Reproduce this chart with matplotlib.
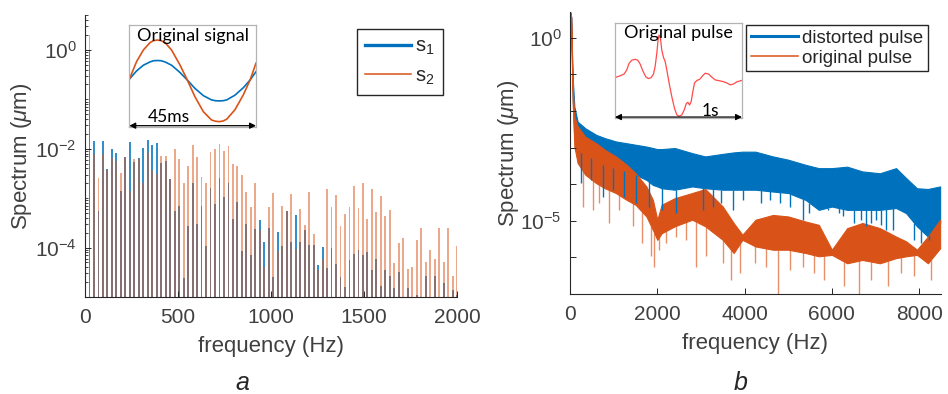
import numpy as np
import matplotlib
matplotlib.use('Agg')
import matplotlib.pyplot as plt
from matplotlib.lines import Line2D
from matplotlib.ticker import FixedLocator, LogLocator, NullFormatter

plt.rcParams['font.family'] = ['Liberation Sans', 'DejaVu Sans']
plt.rcParams['mathtext.fontset'] = 'custom'
plt.rcParams['mathtext.rm'] = 'Liberation Sans'
plt.rcParams['mathtext.it'] = 'Liberation Sans:italic'

BLUE = '#0072BD'
ORANGE = '#D95319'
AXC = '#262626'
TXT = '#404040'

# ---- panel a: line spectra of the two sine signals (harmonics of f0) ----
f0 = 24.1  # Hz, spacing of the bars
harmonic = np.arange(1, 84)
s1_amp = [1.0, 0.0145, 5.4e-4, 0.0143, 0.0039, 0.0100, 0.0083, 0.00142, 0.0067, 0.0140,
          0.0055, 0.0064, 0.0103, 0.0152, 0.0120, 0.0130, 0.0051, 0.0057, 0.0025, 5.6e-4,
          6.8e-4, 2.4e-5, 2.7e-4, 0.0020, 3.0e-4, 6.8e-4, 1.1e-4, 0.0016, 7.6e-4, 0.0026,
          0.00106, 0.0020, 3.85e-4, 8.4e-4, 8.7e-5, 3.05e-4, 7.2e-5, 2.4e-4, 3.6e-4, 1.28e-4,
          2.5e-4, 2.5e-5, 2.1e-4, 1.1e-4, 5.4e-4, 1.28e-4, 4.6e-4, 1.28e-4, 2.3e-4, 1.11e-4,
          1.11e-4, 4.5e-5, 1.03e-4, 3.8e-5, 9.7e-5, 4.75e-5, 2.5e-5, 1.6e-5, 5.5e-5, 7.3e-5,
          8.8e-5, 7.2e-5, 8.0e-5, 3.6e-5, 5.9e-5, 1.7e-5, 3.6e-5, 2.6e-5, 1.5e-5, 3.2e-5,
          5e-6, 1.5e-5, 5e-6, 1.1e-5, 5e-6, 2.6e-5, 5e-6, 2.6e-5, 5e-6, 1.9e-5,
          5e-6, 1.4e-5, 1.1e-5]
s2_amp = [2.0, 0.0079, 0.00256, 0.0078, 0.0038, 0.0064, 0.0057, 0.0033, 0.0069, 0.00142,
          0.0062, 0.0063, 0.0020, 0.0084, 0.0038, 0.0031, 0.0072, 0.0070, 0.0025, 0.0099,
          0.0062, 0.0020, 0.00454, 0.0120, 0.0068, 0.0027, 0.0020, 0.0086, 0.0099, 0.0126,
          0.0091, 0.0113, 0.0050, 0.0045, 0.0029, 0.00135, 6.6e-4, 0.0020, 2.25e-4, 4.1e-5,
          6.6e-4, 1.27e-3, 8.4e-5, 6.8e-4, 5.4e-4, 1.23e-3, 9.4e-5, 6.05e-4, 2.8e-4, 1.35e-3,
          1.9e-4, 3.6e-5, 5.9e-5, 1.53e-3, 6.5e-4, 1.16e-3, 2.7e-4, 4.8e-4, 6.6e-4, 1.79e-3,
          6.3e-4, 2.0e-3, 3.8e-4, 1.53e-3, 5.2e-4, 1.09e-3, 4.3e-4, 5.9e-4, 4.9e-5, 1.25e-4,
          1.6e-4, 3.7e-5, 4.0e-5, 1.45e-4, 2.5e-4, 5.2e-5, 9.1e-5, 5.9e-5, 2.5e-4, 5.1e-5,
          2.5e-4, 2.6e-5, 1.1e-4]

# inset a: one period of the original signals (time in ms)
sig_t = [0.0, 2.6, 5.0, 7.35, 8.6, 9.95, 11.3, 12.7, 15.0, 18.0, 20.6, 23.3, 26.3, 29.2,
         30.6, 31.95, 33.3, 34.6, 37.5, 40.5, 42.9, 45.0]
sig_s1 = [0.07, 0.48, 0.76, 0.92, 0.98, 0.99, 0.98, 0.92, 0.76, 0.40, 0.03, -0.38, -0.74,
          -0.95, -0.99, -1.0, -0.99, -0.95, -0.72, -0.35, 0.03, 0.44]
sig_s2 = [0.07, 0.94, 1.51, 1.87, 1.97, 2.0, 1.97, 1.87, 1.51, 0.77, 0.03, -0.79, -1.53,
          -1.94, -2.0, -2.02, -1.99, -1.90, -1.44, -0.70, 0.03, 0.86]

# ---- panel b: pulse spectra, band edges as log10(spectrum in um) ----
pulse_f = [0, 25, 60, 100, 175, 350, 600, 800, 1050, 1300, 1500, 1750, 1900, 2000, 2100,
           2400, 2800, 3100, 3500, 3750, 3950, 4250, 4650, 5000, 5400, 5700, 6000, 6350,
           6700, 7100, 7470, 7700, 7950, 8200, 8480]
dist_hi = [0.71, 0.58, -1.06, -1.88, -2.29, -2.47, -2.65, -2.74, -2.83, -2.88, -2.92, -2.97,
           -3.01, -3.04, -3.04, -3.01, -3.15, -3.24, -3.17, -3.13, -3.11, -3.11, -3.24, -3.33,
           -3.47, -3.56, -3.56, -3.52, -3.65, -3.70, -3.56, -3.83, -4.11, -4.13, -4.06]
dist_lo = [0.71, 0.58, -1.60, -2.79, -3.06, -3.24, -3.33, -3.52, -3.56, -3.65, -3.74, -3.88,
           -4.02, -4.06, -4.11, -4.15, -4.06, -4.11, -4.15, -4.15, -4.15, -4.15, -4.20, -4.24,
           -4.43, -4.70, -4.61, -4.70, -4.70, -4.70, -4.65, -4.79, -5.15, -5.43, -5.06]
orig_hi = [0.71, 0.58, -1.33, -2.15, -2.42, -2.70, -2.88, -3.06, -3.24, -3.47, -3.70, -4.06,
           -4.43, -4.97, -4.56, -4.38, -4.24, -4.13, -4.61, -5.06, -5.38, -4.97, -4.84, -4.88,
           -5.02, -5.11, -5.79, -5.20, -5.06, -5.20, -5.43, -5.56, -5.79, -5.43, -4.97]
orig_lo = [0.71, 0.58, -1.69, -2.97, -3.42, -3.74, -3.97, -4.11, -4.24, -4.43, -4.56, -4.88,
           -5.25, -5.52, -5.34, -5.15, -4.97, -5.15, -5.52, -5.88, -5.52, -5.70, -5.79, -5.79,
           -5.88, -5.97, -5.93, -6.16, -6.07, -6.16, -6.02, -5.97, -5.93, -6.16, -5.75]
dist_spike_f = [251, 480, 747, 975, 1242, 1509, 1813, 2118, 2423, 3048, 3276, 3467, 3733,
                3962, 4381, 4571, 4800, 5029, 5333, 5486, 5676, 5905, 6171, 6248, 6514,
                6667, 6781, 6895, 7010, 7124, 7238, 7390, 7886, 8038, 8229]
dist_spike = [-3.97, -3.88, -4.34, -4.15, -4.34, -4.52, -4.61, -4.70, -4.79, -4.70, -4.61,
              -4.52, -4.70, -4.43, -4.52, -4.43, -4.52, -4.61, -4.97, -4.79, -4.61, -4.70,
              -4.79, -4.88, -5.06, -4.97, -5.15, -5.06, -4.97, -5.11, -5.25, -5.25, -5.52,
              -5.61, -5.52]
orig_spike_f = [290, 518, 670, 899, 1128, 1432, 1661, 1851, 1928, 2042, 2194, 2423, 2651,
                2895, 3124, 3505, 3695, 3886, 4229, 4495, 4762, 5029, 5333, 5600, 5829,
                6286, 6629, 6895, 7276, 7581, 7886, 8267]
orig_spike = [-4.61, -4.70, -4.52, -5.06, -4.70, -5.15, -5.61, -5.97, -6.25, -5.79, -5.61,
              -5.43, -5.52, -6.25, -5.97, -6.16, -6.61, -6.43, -6.16, -6.25, -7.2, -6.34,
              -6.25, -6.43, -6.61, -6.79, -7.2, -6.61, -6.79, -6.43, -6.52, -6.61]

# inset b: original pulse (time in s, normalised amplitude)
pulse_t = [0.008, 0.039, 0.071, 0.092, 0.111, 0.132, 0.158, 0.179, 0.197, 0.218, 0.242,
           0.263, 0.284, 0.303, 0.316, 0.329, 0.339, 0.347, 0.358, 0.368, 0.382, 0.395,
           0.408, 0.426, 0.447, 0.468, 0.487, 0.505, 0.526, 0.545, 0.561, 0.574, 0.587,
           0.600, 0.613, 0.626, 0.645, 0.666, 0.689, 0.711, 0.737, 0.763, 0.789, 0.824,
           0.855, 0.882, 0.908, 0.934, 0.961, 1.0]
pulse_a = [0.06, 0.09, 0.13, 0.22, 0.37, 0.44, 0.46, 0.44, 0.36, 0.21, 0.07, 0.03, 0.05,
           0.13, 0.30, 0.59, 0.89, 1.00, 0.93, 0.67, 0.50, 0.41, 0.22, -0.07, -0.37, -0.63,
           -0.78, -0.81, -0.78, -0.67, -0.53, -0.50, -0.56, -0.48, -0.26, -0.07, -0.01,
           0.01, 0.09, 0.15, 0.13, 0.06, 0.00, -0.02, -0.04, -0.07, -0.11, -0.09, -0.04, -0.01]

W, H = 948, 394
fig = plt.figure(figsize=(W / 100, H / 100), dpi=100)


def style_axes(ax):
    for side in ('top', 'right'):
        ax.spines[side].set_visible(False)
    for side in ('left', 'bottom'):
        ax.spines[side].set_color(AXC)
        ax.spines[side].set_linewidth(0.8)
    ax.tick_params(which='both', direction='in', colors=AXC, labelcolor=TXT, labelsize=15)
    ax.tick_params(which='major', length=4, width=0.7)
    ax.tick_params(which='minor', length=2.2, width=0.6)
    ax.tick_params(axis='x', pad=8)
    ax.tick_params(axis='y', pad=6)


# ---------------- panel a ----------------
ax1 = fig.add_axes([85 / W, 1 - 297 / H, 372 / W, 282 / H])
ax1.set_yscale('log')
freq_a = harmonic * f0
base = 1e-6
ax1.bar(freq_a, np.array(s1_amp) - base, bottom=base, width=10, color=BLUE, alpha=0.8, lw=0)
ax1.bar(freq_a, np.array(s2_amp) - base, bottom=base, width=10, color=ORANGE, alpha=0.5, lw=0)
ax1.set_xlim(0, 2000)
ax1.set_ylim(1e-5, 5.1)
ax1.set_xticks([0, 500, 1000, 1500, 2000])
ax1.yaxis.set_major_locator(FixedLocator([1e-4, 1e-2, 1]))
ax1.yaxis.set_minor_locator(LogLocator(base=10, subs=np.arange(1, 10), numticks=20))
ax1.yaxis.set_minor_formatter(NullFormatter())
style_axes(ax1)
ax1.set_xlabel('frequency (Hz)', fontsize=16, color=TXT)
ax1.set_ylabel(r'Spectrum ($\mu$m)', fontsize=16, color=TXT)
ax1.xaxis.set_label_coords(0.5, -0.14)
ax1.yaxis.set_label_coords(-0.138, 0.5)

leg1 = ax1.legend(handles=[Line2D([], [], color=BLUE, lw=2.4),
                           Line2D([], [], color=ORANGE, lw=1.1)],
                  labels=[r'$\mathrm{s}_1$', r'$\mathrm{s}_2$'],
                  loc='upper right', bbox_to_anchor=(443 / W, 1 - 29 / H),
                  bbox_transform=fig.transFigure, borderaxespad=0, fontsize=14.5,
                  handlelength=2.3, handletextpad=0.2, labelspacing=0.45,
                  borderpad=0.4, fancybox=False, framealpha=1)
leg1.get_frame().set_edgecolor(AXC)
leg1.get_frame().set_linewidth(1.0)
for t in leg1.get_texts():
    t.set_color(AXC)

ins1 = fig.add_axes([129.3 / W, 1 - 126.7 / H, 126.7 / W, 101.7 / H])
ins1.plot(sig_t, sig_s1, color=BLUE, lw=1.2)
ins1.plot(sig_t, sig_s2, color=ORANGE, lw=1.2)
ins1.set_xlim(0, 45)
ins1.set_ylim(-2.27, 2.74)
ins1.set_xticks([])
ins1.set_yticks([])
for s in ins1.spines.values():
    s.set_color('#b4b4b4')
    s.set_linewidth(0.9)
ins1.text(0.5, 0.975, 'Original signal', transform=ins1.transAxes, ha='center', va='top',
          fontsize=13, family='Lato', color='black')
ins1.text(0.313, 0.095, '45ms', transform=ins1.transAxes, ha='center', va='center',
          fontsize=12.5, family='Lato', color='black')
ins1.annotate('', xy=(0.0, 0.01), xytext=(1.0, 0.01), xycoords='axes fraction',
              arrowprops=dict(arrowstyle='<|-|>', color='black', lw=0.9, mutation_scale=9,
                              shrinkA=0, shrinkB=0))

# ---------------- panel b ----------------
ax2 = fig.add_axes([570 / W, 1 - 294 / H, 371 / W, 282 / H])
ax2.set_yscale('log')
pf = np.array(pulse_f, dtype=float)
ax2.fill_between(pf, 10.0 ** np.array(dist_lo), 10.0 ** np.array(dist_hi),
                 color=BLUE, lw=0.8)
dsf = np.array(dist_spike_f, dtype=float)
ax2.vlines(dsf, 10.0 ** np.array(dist_spike), 10.0 ** np.interp(dsf, pf, dist_lo),
           color=BLUE, lw=1.0)
ax2.fill_between(pf, 10.0 ** np.array(orig_lo), 10.0 ** np.array(orig_hi),
                 color=ORANGE, lw=0.8)
osf = np.array(orig_spike_f, dtype=float)
ax2.vlines(osf, 10.0 ** np.array(orig_spike), 10.0 ** np.interp(osf, pf, orig_lo),
           color=ORANGE, lw=1.0, alpha=0.65)
ax2.set_xlim(0, 8500)
ax2.set_ylim(1e-7, 5.1)
ax2.set_xticks([0, 2000, 4000, 6000, 8000])
ax2.yaxis.set_major_locator(FixedLocator([1e-5, 1]))
ax2.yaxis.set_minor_locator(FixedLocator([1e-7, 1e-6, 1e-4, 1e-3, 1e-2, 1e-1]))
ax2.yaxis.set_minor_formatter(NullFormatter())
style_axes(ax2)
ax2.tick_params(which='minor', length=4, width=0.7)
ax2.set_xlabel('frequency (Hz)', fontsize=16, color=TXT)
ax2.set_ylabel(r'Spectrum ($\mu$m)', fontsize=16, color=TXT)
ax2.xaxis.set_label_coords(0.5, -0.14)
ax2.yaxis.set_label_coords(-0.132, 0.5)

leg2 = ax2.legend(handles=[Line2D([], [], color=BLUE, lw=2.2),
                           Line2D([], [], color=ORANGE, lw=1.1)],
                  labels=['distorted pulse', 'original pulse'],
                  loc='upper right', bbox_to_anchor=(928 / W, 1 - 25 / H),
                  bbox_transform=fig.transFigure, borderaxespad=0, fontsize=13.5,
                  handlelength=2.5, handletextpad=0.25, labelspacing=0.15,
                  borderpad=0.25, fancybox=False, framealpha=1)
leg2.get_frame().set_edgecolor(AXC)
leg2.get_frame().set_linewidth(1.0)
for t in leg2.get_texts():
    t.set_color(AXC)

ins2 = fig.add_axes([615 / W, 1 - 118 / H, 127 / W, 95 / H])
ins2.plot(pulse_t, pulse_a, color='#ff4a4a', lw=0.9)
ins2.set_xlim(0, 1)
ins2.set_ylim(-0.85, 1.27)
ins2.set_xticks([])
ins2.set_yticks([])
for s in ins2.spines.values():
    s.set_color('#b4b4b4')
    s.set_linewidth(0.9)
ins2.text(0.5, 0.975, 'Original pulse', transform=ins2.transAxes, ha='center', va='top',
          fontsize=13, family='Lato', color='black')
ins2.text(0.752, 0.074, '1s', transform=ins2.transAxes, ha='center', va='center',
          fontsize=12.5, family='Lato', color='black')
ins2.annotate('', xy=(0.0, 0.01), xytext=(1.0, 0.01), xycoords='axes fraction',
              arrowprops=dict(arrowstyle='<|-|>', color='black', lw=0.9, mutation_scale=9,
                              shrinkA=0, shrinkB=0))

fig.text(242 / W, 1 - 383 / H, 'a', style='italic', fontsize=18, ha='center', va='center',
         color=AXC)
fig.text(741 / W, 1 - 383 / H, 'b', style='italic', fontsize=18, ha='center', va='center',
         color=AXC)

fig.savefig('out.png', dpi=100)
plt.close(fig)
